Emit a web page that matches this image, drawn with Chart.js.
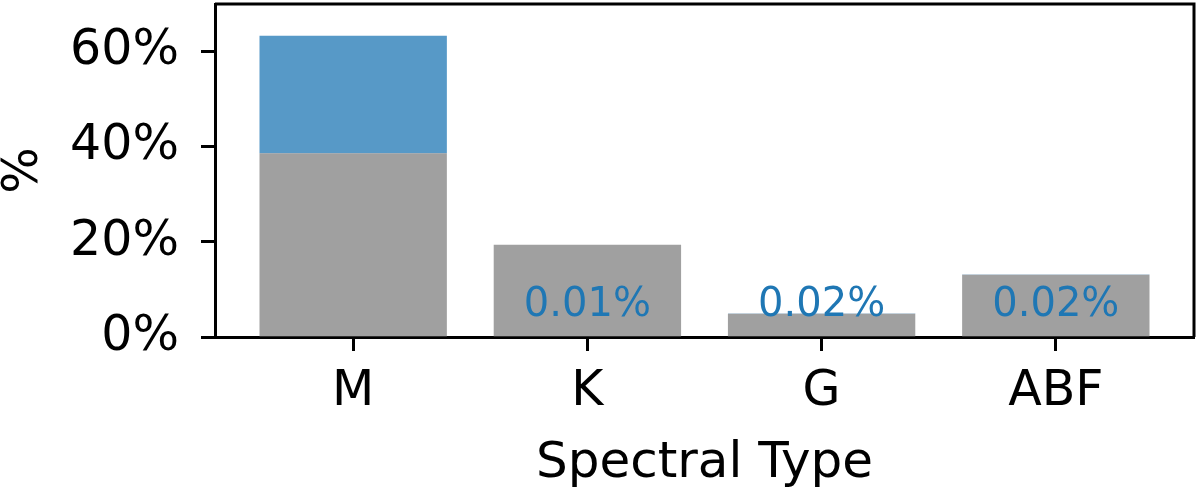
<!DOCTYPE html>
<html>
<head>
<meta charset="utf-8">
<script src="https://cdn.jsdelivr.net/npm/chart.js@4"></script>
<style>
  body { margin: 0; background: #fff; }
  #wrap { width: 1200px; height: 490px; }
</style>
</head>
<body>
<div id="wrap"><canvas id="typeChart"></canvas></div>
<script>
const categories = ['M', 'K', 'G', 'ABF'];
const xPositions = [0, 1, 2, 3];
const baseShare = [38.6, 19.4, 4.9, 13.1];
const extraShare = [24.75, 0.01, 0.02, 0.02];
const barNotes = ['', '0.01%', '0.02%', '0.02%'];
const yTicks = [0, 20, 40, 60];

Chart.defaults.font.family = "'DejaVu Sans', sans-serif";
Chart.defaults.color = '#000';

const framePlugin = {
    id: 'frame',
    afterDraw(chart) {
        const { ctx, chartArea } = chart;
        ctx.save();
        ctx.strokeStyle = '#000';
        ctx.lineWidth = 3;
        ctx.beginPath();
        ctx.moveTo(chartArea.left, chartArea.top);
        ctx.lineTo(chartArea.right, chartArea.top);
        ctx.lineTo(chartArea.right, chartArea.bottom);
        ctx.stroke();
        ctx.restore();
    }
};

const notePlugin = {
    id: 'notes',
    afterDatasetsDraw(chart) {
        const { ctx, scales } = chart;
        ctx.save();
        ctx.font = "40px 'DejaVu Sans'";
        ctx.fillStyle = '#1f77b4';
        ctx.textAlign = 'center';
        ctx.textBaseline = 'alphabetic';
        barNotes.forEach((txt, i) => {
            if (!txt) return;
            ctx.fillText(txt, scales.x.getPixelForValue(xPositions[i]), scales.y.getPixelForValue(4.5));
        });
        ctx.restore();
    }
};

const ctx = document.getElementById('typeChart').getContext('2d');
new Chart(ctx, {
    type: 'bar',
    data: {
        datasets: [{
            data: xPositions.map((x, i) => ({ x: x, y: baseShare[i] })),
            backgroundColor: 'rgba(128, 128, 128, 0.75)',
            barPercentage: 0.8, categoryPercentage: 1
        }, {
            data: xPositions.map((x, i) => ({ x: x, y: extraShare[i] })),
            backgroundColor: 'rgba(31, 119, 180, 0.75)',
            barPercentage: 0.8, categoryPercentage: 1
        }]
    },
    options: {
        responsive: true, maintainAspectRatio: false, animation: false,
        layout: { padding: { left: 0, top: 4, right: 6, bottom: 0 } },
        plugins: { legend: { display: false }, tooltip: { enabled: false } },
        scales: {
            x: {
                type: 'linear', stacked: true, offset: false,
                min: -0.59, max: 3.59,
                afterBuildTicks: (s) => { s.ticks = xPositions.map(v => ({ value: v })); },
                afterFit: (s) => { s.height = 153; s.paddingLeft = 0; s.paddingRight = 0; },
                ticks: { font: { size: 49 }, padding: 12, callback: (v) => categories[v] },
                grid: { drawOnChartArea: false, offset: false, tickLength: 14, tickWidth: 3, tickColor: '#000' },
                border: { display: true, width: 3, color: '#000' },
                title: { display: true, text: 'Spectral Type', font: { size: 50, lineHeight: 1 }, padding: { top: 0, bottom: 1 } }
            },
            y: {
                stacked: true, min: 0, max: 70,
                afterBuildTicks: (s) => { s.ticks = yTicks.map(v => ({ value: v })); },
                afterFit: (s) => { s.width = 215; s.paddingTop = 0; s.paddingBottom = 0; },
                ticks: { font: { size: 49 }, padding: 22, callback: (v) => v + '%' },
                grid: { drawOnChartArea: false, tickLength: 14, tickWidth: 3, tickColor: '#000' },
                border: { display: true, width: 3, color: '#000' },
                title: { display: true, text: '%', font: { size: 49, lineHeight: 1 }, padding: { top: 0, bottom: 0 } }
            }
        }
    },
    plugins: [framePlugin, notePlugin]
});
</script>
</body>
</html>
